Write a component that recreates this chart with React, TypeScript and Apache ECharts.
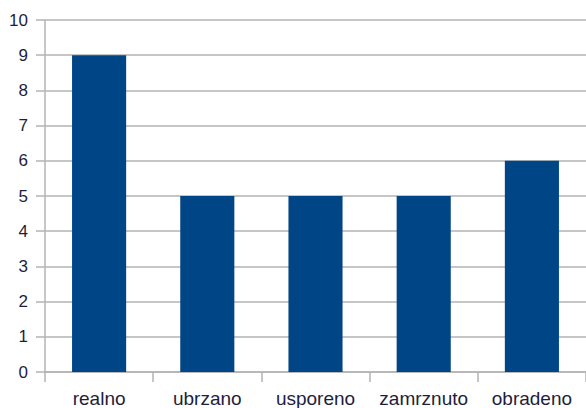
import React, { useEffect, useRef } from "react";
import * as echarts from "echarts";

const categories = ["realno", "ubrzano", "usporeno", "zamrznuto", "obradeno"];
const values = [9, 5, 5, 5, 6];
const yTicks = { min: 0, max: 10, interval: 1 };

export default function App() {
  const ref = useRef<HTMLDivElement>(null);
  useEffect(() => {
    const chart = echarts.init(ref.current!, null, { renderer: "svg" });
    chart.setOption({
      animation: false,
      backgroundColor: "#ffffff",
      grid: { left: 45, top: 20, bottom: 35, width: 547, containLabel: false },
      xAxis: {
        type: "category",
        data: categories,
        boundaryGap: true,
        axisLine: { show: true, lineStyle: { color: "#b3b3b3", width: 1.5 } },
        axisTick: { show: true, length: 10, interval: 0, alignWithLabel: false, lineStyle: { color: "#b3b3b3", width: 1.5 } },
        axisLabel: {
          interval: 0,
          hideOverlap: false,
          color: "#1e1e3c",
          fontFamily: "Liberation Sans",
          fontSize: 19,
          margin: 17,
        },
        splitLine: { show: false },
      },
      yAxis: {
        type: "value",
        min: yTicks.min,
        max: yTicks.max,
        interval: yTicks.interval,
        axisLine: { show: true, lineStyle: { color: "#b3b3b3", width: 1.5 } },
        axisTick: { show: true, length: 9, lineStyle: { color: "#b3b3b3", width: 1.5 } },
        axisLabel: {
          color: "#1e1e3c",
          fontFamily: "Liberation Sans",
          fontSize: 17,
          margin: 17,
        },
        splitLine: { show: true, lineStyle: { color: "#b3b3b3", width: 1.5 } },
      },
      series: [
        {
          type: "bar",
          data: values,
          barWidth: "50%",
          itemStyle: { color: "#004586" },
        },
      ],
    });
    return () => chart.dispose();
  }, []);
  return (
    <div
      ref={ref}
      style={{ position: "fixed", left: 0, top: 0, width: 586, height: 408, background: "#fff" }}
    />
  );
}
